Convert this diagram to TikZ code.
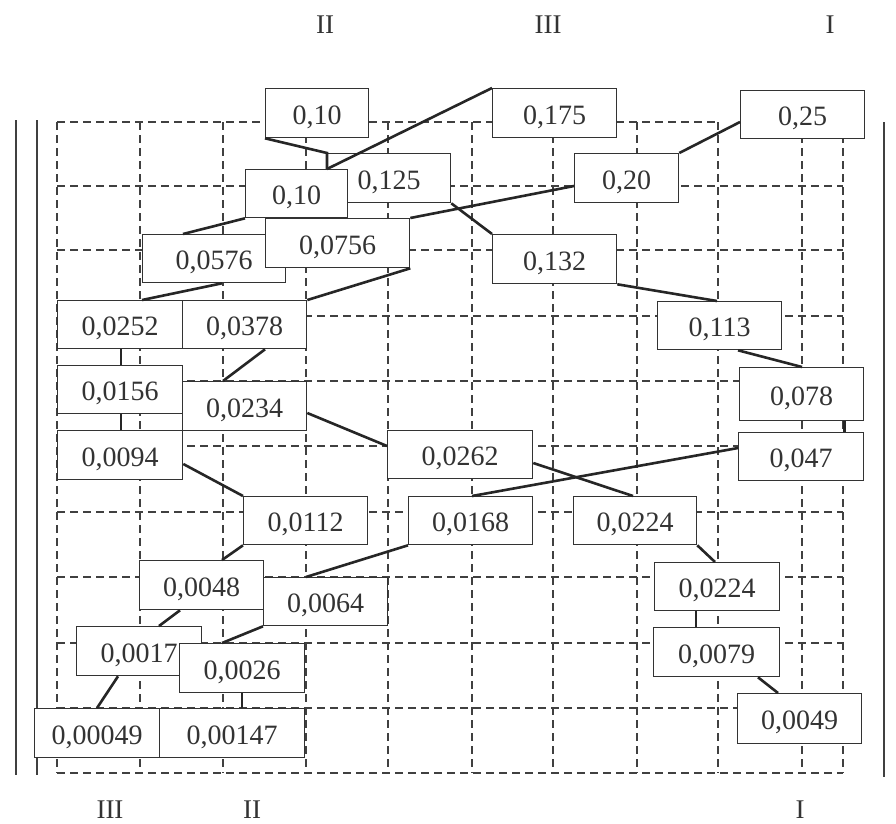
\documentclass[tikz,border=0pt]{standalone}
\usepackage{fontspec}
\setmainfont{Liberation Serif}
\begin{document}
\begin{tikzpicture}[x=1pt,y=-1pt,
  gridline/.style={draw=black!75,line width=1.1pt,dash pattern=on 8pt off 5pt},
  numbox/.style={draw=black!80,line width=1.3pt,fill=white,anchor=north west,inner sep=0pt,
    font=\fontsize{28}{32}\selectfont,text height=22pt,text depth=0pt,text=black!80},
  conn/.style={draw=black!85,line width=2.6pt},
  frameline/.style={draw=black!75,line width=1.2pt},
  roman/.style={font=\fontsize{27}{30}\selectfont,text=black!80,inner sep=0pt}]
\useasboundingbox (0,0) rectangle (896,823);
\fill[white] (0,0) rectangle (896,823);
% frame lines
\draw[frameline] (16,120) -- (16,775);
\draw[frameline] (37,120) -- (37,775);
\draw[frameline] (884,122) -- (884,777);
% dashed grid
\foreach \x in {57,140,223,306,388,472,553,637,718,802,843}
  \draw[gridline] (\x,122) -- (\x,773);
\draw[gridline] (57,122) -- (718,122);
\foreach \y in {186,250,316,381,446,512,577,643,708,773}
  \draw[gridline] (57,\y) -- (843,\y);
% roman labels
\node[roman] (rt2) at (325,25) {II};
\node[roman] (rt3) at (548,25) {III};
\node[roman] (rt1) at (830,25) {I};
\node[roman] (rb3) at (110,810) {III};
\node[roman] (rb2) at (252,810) {II};
\node[roman] (rb1) at (800,810) {I};
% boxes
\node[numbox,minimum width=103pt,minimum height=49pt] (t10) at (265,88) {0,10};
\node[numbox,minimum width=124pt,minimum height=49pt] (c175) at (492,88) {0,175};
\node[numbox,minimum width=124pt,minimum height=48pt] (c25) at (740,90) {0,25};
\node[numbox,minimum width=123pt,minimum height=49pt] (c125) at (327,153) {0,125};
\node[numbox,minimum width=102pt,minimum height=48pt] (s10) at (245,169) {0,10};
\node[numbox,minimum width=104pt,minimum height=49pt] (c20) at (574,153) {0,20};
\node[numbox,minimum width=124pt,minimum height=49pt] (c132) at (492,234) {0,132};
\node[numbox,minimum width=143pt,minimum height=48pt] (c0576) at (142,234) {0,0576};
\node[numbox,minimum width=144pt,minimum height=49pt] (c0756) at (265,218) {0,0756};
\node[numbox,minimum width=124pt,minimum height=48pt] (c113) at (657,301) {0,113};
\node[numbox,minimum width=125pt,minimum height=48pt] (c0252) at (57,300) {0,0252};
\node[numbox,minimum width=124pt,minimum height=48pt] (c0378) at (182,300) {0,0378};
\node[numbox,minimum width=125pt,minimum height=48pt] (c0156) at (57,365) {0,0156};
\node[numbox,minimum width=124pt,minimum height=49pt] (c0234) at (182,381) {0,0234};
\node[numbox,minimum width=125pt,minimum height=49pt] (c0094) at (57,430) {0,0094};
\node[numbox,minimum width=145pt,minimum height=48pt] (c0262) at (387,430) {0,0262};
\node[numbox,minimum width=124pt,minimum height=53pt] (c078) at (739,367) {0,078};
\node[numbox,minimum width=125pt,minimum height=48pt] (c047) at (738,432) {0,047};
\node[numbox,minimum width=124pt,minimum height=48pt] (c0112) at (243,496) {0,0112};
\node[numbox,minimum width=124pt,minimum height=48pt] (c0168) at (408,496) {0,0168};
\node[numbox,minimum width=123pt,minimum height=48pt] (c0224a) at (573,496) {0,0224};
\node[numbox,minimum width=125pt,minimum height=48pt] (c0224b) at (654,562) {0,0224};
\node[numbox,minimum width=124pt,minimum height=48pt] (c0064) at (263,577) {0,0064};
\node[numbox,minimum width=124pt,minimum height=49pt] (c0048) at (139,560) {0,0048};
\node[numbox,minimum width=125pt,minimum height=49pt] (c0017) at (76,626) {0,0017};
\node[numbox,minimum width=125pt,minimum height=49pt] (c0026) at (179,643) {0,0026};
\node[numbox,minimum width=125pt,minimum height=49pt] (c00049) at (34,708) {0,00049};
\node[numbox,minimum width=145pt,minimum height=49pt] (c00147) at (159,708) {0,00147};
\node[numbox,minimum width=126pt,minimum height=49pt] (c0079) at (653,627) {0,0079};
\node[numbox,minimum width=124pt,minimum height=50pt] (c0049) at (737,693) {0,0049};
% connectors
\draw[conn] (t10.south west) -- (c125.north west) -- (c125.north west |- s10.north);
\draw[conn] (c175.north west) -- (c125.north west |- s10.north);
\draw[conn] ([yshift=-32pt]c25.north west) -- (c20.north east);
\draw[conn] ([yshift=-33pt]c20.north west) -- (c0756.north east);
\draw[conn] (c125.south east) -- (c132.north west);
\draw[conn] (c132.south east) -- ([xshift=60pt]c113.north west);
\draw[conn] ([xshift=81pt]c113.south west) -- ([xshift=63pt]c078.north west);
\draw[conn] ([xshift=-20pt]c078.south east) -- ([xshift=-20pt]c078.south east |- c047.north);
\draw[conn] ([yshift=-16pt]c047.north west) -- ([xshift=64pt]c0168.north west);
\draw[conn] ([yshift=-33pt]c0262.north east) -- ([xshift=60pt]c0224a.north west);
\draw[conn] (c0224a.south east) -- ([xshift=61pt]c0224b.north west);
\draw[conn] ([xshift=42pt]c0224b.south west) -- ([xshift=42pt]c0224b.south west |- c0079.north);
\draw[conn] ([xshift=105pt]c0079.south west) -- ([xshift=41pt]c0049.north west);
\draw[conn] (s10.south west) -- ([xshift=41pt]c0576.north west);
\draw[conn] (c0756.south east) -- (c0378.north east);
\draw[conn] ([xshift=80pt]c0576.south west) -- ([xshift=85pt]c0252.north west);
\draw[conn] ([xshift=64pt]c0252.south west) -- ([xshift=64pt]c0252.south west |- c0156.north);
\draw[conn] ([xshift=83pt]c0378.south west) -- ([xshift=41pt]c0234.north west);
\draw[conn] ([xshift=64pt]c0156.south west) -- ([xshift=64pt]c0156.south west |- c0094.north);
\draw[conn] ([yshift=-32pt]c0234.north east) -- ([yshift=-16pt]c0262.north west);
\draw[conn] ([yshift=-34pt]c0094.north east) -- (c0112.north west);
\draw[conn] (c0112.south west) -- ([xshift=83pt]c0048.north west);
\draw[conn] (c0168.south west) -- ([xshift=43pt]c0064.north west);
\draw[conn] ([xshift=41pt]c0048.south west) -- ([xshift=83pt]c0017.north west);
\draw[conn] (c0064.south west) -- ([xshift=43pt]c0026.north west);
\draw[conn] ([xshift=42pt]c0017.south west) -- ([xshift=63pt]c00049.north west);
\draw[conn] ([xshift=63pt]c0026.south west) -- ([xshift=63pt]c0026.south west |- c00147.north);
\end{tikzpicture}
\end{document}
